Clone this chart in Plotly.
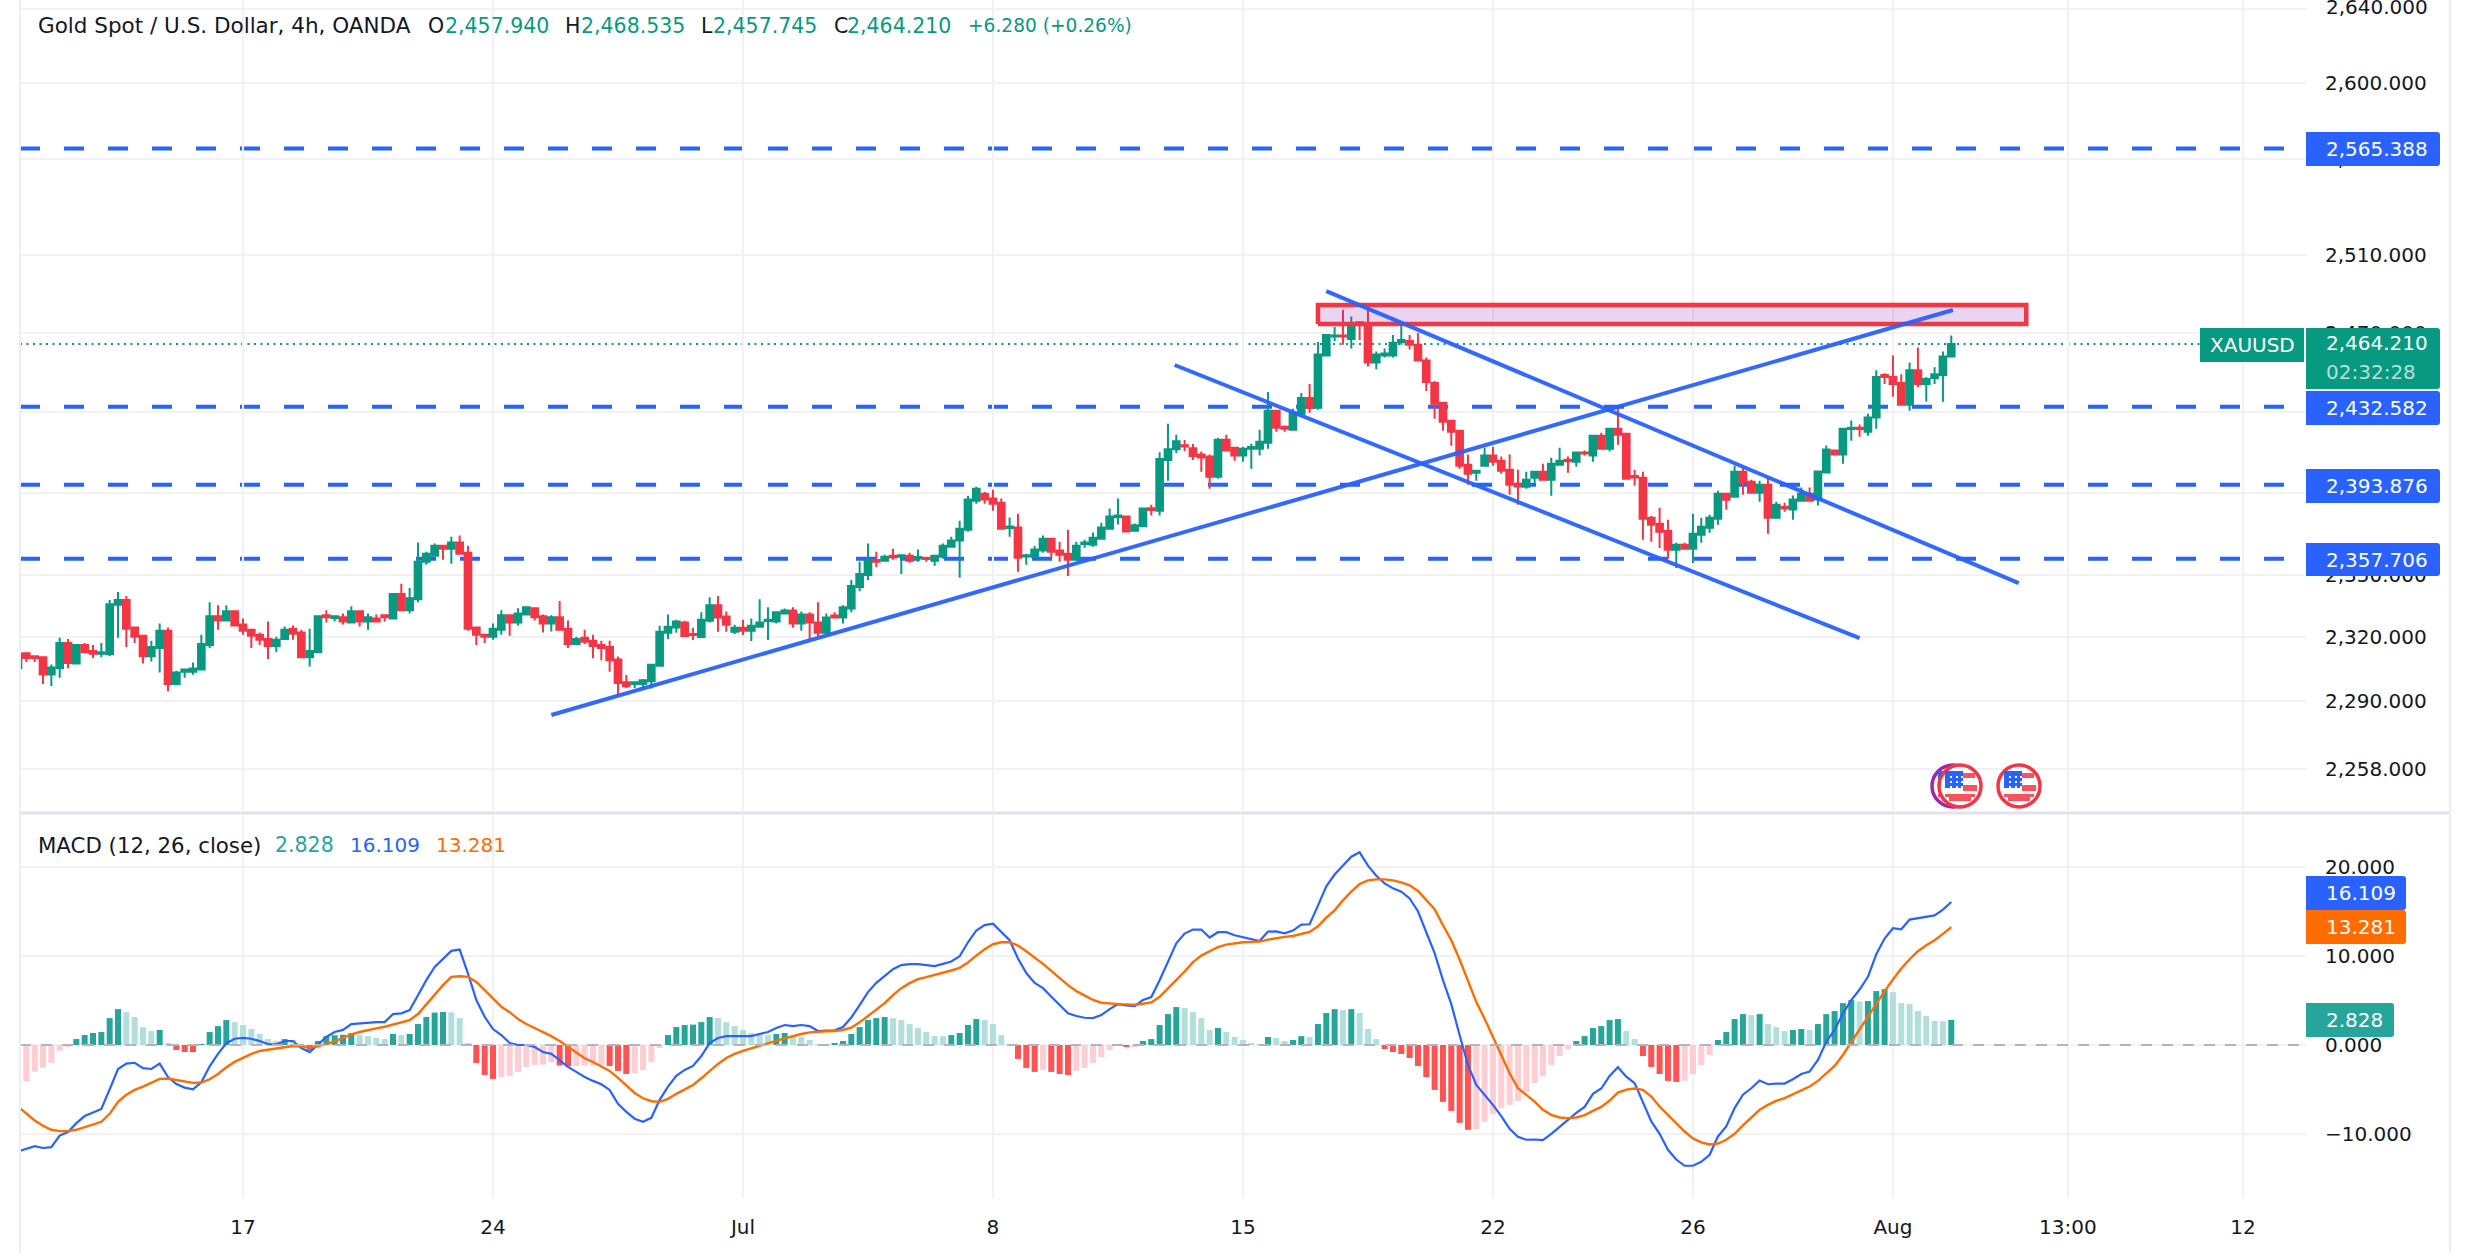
import math
import plotly.graph_objects as go

W, H = 2470, 1253

opens = [
    2305.3, 2312.4, 2311.0, 2310.5, 2302.3, 2305.3, 2317.3, 2307.5, 2316.3, 2313.4,
    2312.1, 2311.9, 2335.5, 2337.8, 2324.6, 2320.7, 2311.0, 2314.9, 2323.1, 2297.8,
    2303.6, 2303.6, 2304.6, 2316.3, 2330.0, 2328.0, 2332.4, 2326.1, 2323.6, 2321.2,
    2319.2, 2315.8, 2319.1, 2324.1, 2322.2, 2310.5, 2312.9, 2330.5, 2329.2, 2329.5,
    2327.0, 2332.4, 2327.5, 2329.0, 2330.5, 2329.0, 2340.7, 2332.9, 2338.2, 2356.3,
    2359.2, 2364.1, 2362.6, 2365.6, 2360.7, 2324.6, 2321.2, 2320.2, 2323.6, 2330.5,
    2327.0, 2330.9, 2333.9, 2330.0, 2326.5, 2329.5, 2324.1, 2316.8, 2319.7, 2318.3,
    2316.3, 2315.3, 2309.4, 2298.6, 2297.8, 2297.8, 2299.1, 2306.4, 2322.1, 2324.7,
    2327.0, 2321.6, 2320.1, 2327.9, 2335.3, 2329.9, 2322.6, 2324.5, 2323.1, 2325.0,
    2327.6, 2327.5, 2331.4, 2332.8, 2326.5, 2330.9, 2327.0, 2322.1, 2330.4, 2329.4,
    2333.8, 2344.1, 2349.9, 2357.1, 2356.8, 2359.2, 2358.7, 2359.2, 2357.9, 2358.2,
    2356.8, 2358.7, 2363.6, 2366.6, 2371.9, 2386.1, 2389.5, 2387.1, 2385.1, 2372.7,
    2372.9, 2358.9, 2358.7, 2361.7, 2367.5, 2361.7, 2360.2, 2357.3, 2364.9, 2364.6,
    2367.5, 2372.4, 2378.0, 2378.3, 2371.4, 2373.6, 2382.4, 2381.2, 2406.1, 2411.5,
    2413.5, 2412.0, 2408.8, 2407.8, 2397.9, 2416.2, 2412.2, 2408.3, 2411.7, 2411.7,
    2414.7, 2430.6, 2422.7, 2421.2, 2429.1, 2437.0, 2432.1, 2458.4, 2468.0, 2468.6,
    2466.8, 2475.3, 2474.8, 2454.9, 2458.4, 2458.4, 2465.3, 2465.8, 2463.8, 2455.9,
    2444.5, 2434.6, 2425.6, 2420.7, 2403.8, 2399.8, 2403.3, 2408.3, 2405.8, 2401.3,
    2394.4, 2392.9, 2397.4, 2400.3, 2396.4, 2403.8, 2406.3, 2405.3, 2409.9, 2408.3,
    2418.2, 2411.7, 2421.7, 2419.2, 2398.2, 2397.4, 2377.7, 2374.8, 2371.4, 2362.1,
    2364.5, 2362.6, 2369.4, 2372.8, 2377.2, 2389.5, 2388.0, 2400.3, 2395.4, 2390.0,
    2393.9, 2377.7, 2383.1, 2381.7, 2386.1, 2389.5, 2386.6, 2399.9, 2410.8, 2408.8,
    2421.5, 2422.2, 2420.2, 2427.2, 2448.5, 2447.5, 2444.5, 2433.6, 2451.0, 2444.0,
    2447.0, 2448.5, 2457.94,
]
highs = [
    2312.2, 2312.9, 2311.4, 2310.5, 2307.0, 2319.7, 2319.2, 2316.8, 2317.3, 2316.3,
    2317.3, 2337.8, 2341.7, 2339.7, 2324.6, 2321.2, 2318.3, 2326.5, 2324.6, 2304.1,
    2305.1, 2308.0, 2321.2, 2336.8, 2335.3, 2335.3, 2332.4, 2329.0, 2323.6, 2322.2,
    2327.5, 2320.2, 2325.1, 2325.6, 2323.6, 2324.1, 2330.5, 2332.9, 2330.0, 2331.4,
    2334.8, 2332.9, 2331.4, 2330.9, 2330.5, 2341.2, 2345.6, 2343.6, 2365.6, 2361.2,
    2365.1, 2364.6, 2368.5, 2369.0, 2364.1, 2325.1, 2321.7, 2326.5, 2332.9, 2330.9,
    2333.9, 2334.8, 2334.4, 2330.9, 2330.5, 2337.3, 2328.0, 2320.2, 2323.6, 2321.2,
    2318.3, 2318.3, 2310.8, 2302.0, 2299.1, 2300.1, 2307.4, 2325.5, 2330.9, 2328.4,
    2327.9, 2324.5, 2331.9, 2339.2, 2339.7, 2332.3, 2326.0, 2328.4, 2328.9, 2338.2,
    2334.3, 2332.3, 2333.8, 2334.3, 2332.3, 2331.9, 2336.7, 2331.4, 2331.9, 2335.3,
    2347.5, 2356.3, 2365.1, 2361.2, 2359.7, 2362.6, 2359.7, 2360.7, 2362.2, 2358.2,
    2359.2, 2365.1, 2368.5, 2376.3, 2388.5, 2392.9, 2390.5, 2391.5, 2387.1, 2377.8,
    2379.7, 2360.2, 2364.1, 2369.0, 2368.0, 2366.0, 2371.9, 2366.0, 2367.0, 2370.5,
    2375.3, 2382.2, 2387.1, 2378.8, 2374.9, 2382.7, 2384.1, 2410.0, 2424.1, 2418.6,
    2416.1, 2414.1, 2410.3, 2408.8, 2417.2, 2418.7, 2412.7, 2412.7, 2414.2, 2421.2,
    2440.0, 2430.6, 2423.2, 2431.6, 2439.5, 2444.0, 2465.3, 2469.3, 2472.8, 2481.7,
    2478.2, 2475.8, 2482.7, 2460.4, 2461.9, 2468.8, 2474.8, 2468.8, 2469.8, 2457.4,
    2445.5, 2435.1, 2426.1, 2421.2, 2408.8, 2401.3, 2412.2, 2412.7, 2407.8, 2408.8,
    2401.3, 2400.3, 2400.3, 2404.3, 2407.3, 2412.2, 2407.8, 2410.3, 2410.8, 2418.7,
    2419.7, 2422.2, 2431.6, 2419.7, 2401.3, 2400.3, 2378.7, 2382.6, 2376.7, 2365.5,
    2365.5, 2379.7, 2377.7, 2379.2, 2390.9, 2389.5, 2403.3, 2402.8, 2396.4, 2395.9,
    2397.4, 2385.6, 2385.1, 2388.6, 2392.5, 2392.5, 2400.4, 2413.3, 2411.3, 2421.7,
    2425.7, 2423.7, 2429.1, 2451.0, 2449.5, 2458.4, 2449.0, 2454.9, 2462.4, 2447.5,
    2452.5, 2460.4, 2468.535,
]
lows = [
    2305.3, 2308.2, 2308.2, 2297.8, 2296.8, 2300.7, 2305.3, 2307.2, 2312.9, 2310.1,
    2310.5, 2311.0, 2319.7, 2315.3, 2317.3, 2307.5, 2308.5, 2303.2, 2294.4, 2297.8,
    2300.7, 2302.2, 2304.6, 2314.9, 2323.6, 2328.0, 2325.1, 2321.2, 2314.9, 2316.3,
    2309.5, 2312.9, 2318.8, 2318.8, 2310.0, 2306.1, 2312.9, 2327.0, 2327.5, 2326.1,
    2326.5, 2325.1, 2323.6, 2327.5, 2327.5, 2329.0, 2332.4, 2331.4, 2336.8, 2354.8,
    2359.2, 2357.3, 2355.3, 2360.2, 2323.1, 2316.3, 2317.3, 2318.8, 2321.2, 2320.7,
    2325.6, 2330.5, 2328.0, 2322.2, 2322.7, 2323.6, 2314.9, 2316.3, 2316.8, 2310.0,
    2309.0, 2303.6, 2292.3, 2295.9, 2295.9, 2295.7, 2295.7, 2306.4, 2319.1, 2322.1,
    2320.6, 2318.7, 2320.1, 2327.0, 2322.6, 2322.6, 2321.6, 2321.1, 2318.2, 2325.0,
    2318.7, 2326.5, 2331.4, 2324.5, 2323.1, 2318.7, 2320.6, 2321.6, 2329.4, 2326.5,
    2331.9, 2342.1, 2347.5, 2353.8, 2356.3, 2357.3, 2350.4, 2355.8, 2356.3, 2356.3,
    2354.3, 2357.8, 2363.1, 2348.5, 2370.9, 2384.6, 2384.6, 2381.2, 2372.4, 2368.5,
    2351.4, 2354.8, 2358.7, 2360.7, 2358.2, 2356.3, 2349.4, 2357.3, 2363.1, 2363.6,
    2367.5, 2371.9, 2374.4, 2370.5, 2371.4, 2373.6, 2378.8, 2378.8, 2395.9, 2409.6,
    2410.6, 2406.1, 2400.3, 2391.9, 2396.9, 2410.8, 2405.8, 2405.3, 2401.8, 2408.3,
    2411.7, 2420.2, 2420.2, 2421.2, 2428.6, 2429.6, 2431.1, 2458.4, 2465.8, 2463.8,
    2461.9, 2466.3, 2452.9, 2451.4, 2457.4, 2457.4, 2463.8, 2461.4, 2455.9, 2440.5,
    2426.6, 2420.7, 2413.2, 2401.8, 2393.9, 2395.9, 2402.8, 2403.3, 2399.3, 2389.0,
    2384.1, 2391.9, 2394.9, 2395.9, 2388.5, 2403.3, 2399.8, 2402.8, 2408.3, 2405.3,
    2411.2, 2410.3, 2413.7, 2396.9, 2393.4, 2367.0, 2366.0, 2363.0, 2357.7, 2353.3,
    2362.1, 2355.7, 2365.5, 2370.4, 2374.3, 2381.6, 2388.0, 2389.0, 2389.5, 2385.6,
    2369.9, 2377.2, 2380.7, 2376.8, 2386.1, 2386.1, 2383.7, 2399.9, 2408.3, 2404.3,
    2415.7, 2417.7, 2418.2, 2421.7, 2444.0, 2437.6, 2433.6, 2430.6, 2442.5, 2435.1,
    2444.0, 2435.1, 2457.745,
]
closes = [
    2312.2, 2310.1, 2310.1, 2302.3, 2305.6, 2317.3, 2307.7, 2316.3, 2312.9, 2312.1,
    2312.9, 2335.8, 2337.8, 2324.1, 2320.2, 2311.0, 2315.3, 2323.1, 2297.8, 2303.2,
    2304.6, 2305.1, 2316.8, 2330.0, 2328.0, 2332.4, 2325.6, 2323.1, 2320.7, 2318.8,
    2315.8, 2318.8, 2323.6, 2321.7, 2310.5, 2313.4, 2330.0, 2329.5, 2330.0, 2327.5,
    2332.4, 2327.5, 2329.5, 2327.5, 2329.6, 2340.7, 2332.9, 2338.7, 2356.3, 2360.2,
    2364.1, 2362.6, 2365.6, 2360.2, 2324.1, 2321.2, 2320.2, 2324.1, 2330.5, 2327.0,
    2331.4, 2334.4, 2329.5, 2326.5, 2329.5, 2323.6, 2316.8, 2319.2, 2317.8, 2315.8,
    2314.9, 2309.0, 2298.3, 2296.7, 2298.6, 2299.6, 2306.9, 2322.6, 2325.0, 2327.5,
    2320.6, 2321.1, 2328.4, 2335.3, 2329.4, 2326.0, 2324.5, 2323.1, 2325.5, 2327.0,
    2328.3, 2331.9, 2332.8, 2326.5, 2330.9, 2327.0, 2322.1, 2329.4, 2329.4, 2334.3,
    2344.6, 2350.4, 2356.8, 2356.3, 2358.7, 2358.4, 2359.5, 2356.8, 2358.6, 2357.6,
    2359.2, 2364.1, 2366.6, 2372.4, 2386.6, 2392.0, 2386.6, 2384.6, 2372.4, 2373.4,
    2358.2, 2359.5, 2362.2, 2367.5, 2361.2, 2359.7, 2357.3, 2364.1, 2365.6, 2368.0,
    2372.9, 2378.3, 2378.8, 2371.0, 2374.0, 2382.2, 2381.5, 2406.6, 2411.5, 2415.4,
    2412.8, 2408.1, 2407.4, 2397.9, 2416.2, 2410.8, 2408.3, 2411.7, 2412.6, 2415.2,
    2430.6, 2422.2, 2421.7, 2429.6, 2437.0, 2432.1, 2458.9, 2468.8, 2468.6, 2468.0,
    2474.8, 2474.3, 2454.9, 2458.9, 2459.4, 2464.8, 2466.2, 2463.8, 2455.9, 2445.0,
    2434.1, 2425.1, 2420.2, 2403.3, 2399.3, 2400.8, 2408.3, 2405.3, 2400.8, 2393.9,
    2393.1, 2396.4, 2400.3, 2396.4, 2404.3, 2405.8, 2405.5, 2409.8, 2409.3, 2418.2,
    2411.7, 2421.7, 2418.7, 2396.9, 2397.5, 2377.2, 2374.3, 2370.9, 2362.1, 2364.5,
    2362.6, 2369.9, 2373.3, 2377.7, 2389.5, 2386.5, 2400.3, 2394.9, 2390.0, 2393.9,
    2377.7, 2384.1, 2382.3, 2386.6, 2389.5, 2386.1, 2400.4, 2411.3, 2408.8, 2421.7,
    2422.2, 2421.5, 2427.2, 2447.5, 2447.5, 2444.0, 2433.6, 2451.0, 2444.0, 2446.5,
    2449.0, 2457.9, 2464.21,
]

macd_hist = [
    -5.4, -4.1, -3.0, -2.55, -2.0, -0.64, -0.2, 0.67, 1.12, 1.35,
    1.46, 3.03, 4.04, 3.7, 3.15, 2.0, 1.57, 1.69, 0.22, -0.56,
    -0.79, -0.8, 0.1, 1.46, 2.13, 2.81, 2.58, 2.25, 1.8, 1.24,
    0.67, 0.45, 0.67, 0.56, -0.22, -0.56, 0.45, 1.0, 1.1, 1.15,
    1.35, 1.12, 1.0, 0.79, 0.67, 1.24, 1.12, 1.24, 2.36, 3.15,
    3.65, 3.72, 3.68, 3.03, 0.22, -2.02, -3.37, -3.82, -3.6, -3.48,
    -3.03, -2.47, -2.25, -2.2, -1.91, -2.3, -2.4, -2.36, -2.33, -2.28,
    -2.25, -2.36, -2.92, -3.26, -3.15, -2.81, -1.91, -0.34, 1.12, 2.02,
    2.25, 2.3, 2.58, 3.15, 3.03, 2.58, 2.13, 1.69, 1.35, 1.3,
    1.12, 1.24, 1.35, 1.0, 0.9, 0.56, 0.1, 0.11, 0.12, 0.45,
    1.24, 2.02, 2.81, 3.03, 3.15, 3.03, 2.81, 2.36, 1.91, 1.46,
    1.0, 0.98, 1.12, 1.35, 2.25, 2.92, 2.81, 2.36, 1.12, 0.1,
    -1.57, -2.58, -3.03, -2.81, -3.03, -3.26, -3.37, -2.92, -2.58, -2.02,
    -1.35, -0.56, 0.1, -0.22, -0.2, 0.45, 0.67, 2.25, 3.48, 4.27,
    4.16, 3.7, 3.03, 1.69, 1.91, 1.46, 0.9, 0.56, 0.22, 0.11,
    0.9, 0.79, 0.45, 0.56, 1.0, 0.9, 2.36, 3.6, 4.04, 3.93,
    4.04, 3.6, 1.8, 0.67, -0.45, -0.79, -1.01, -1.46, -2.36, -3.6,
    -5.06, -6.4, -7.42, -8.76, -9.55, -9.5, -8.65, -7.75, -7.08, -6.74,
    -6.29, -5.28, -4.27, -3.48, -2.25, -1.24, -0.45, 0.45, 1.0, 1.91,
    2.13, 2.81, 2.92, 1.57, 0.67, -1.24, -2.47, -3.26, -4.04, -4.16,
    -4.04, -3.26, -2.25, -1.12, 0.56, 1.46, 2.92, 3.48, 3.37, 3.48,
    2.36, 2.02, 1.57, 1.69, 1.8, 1.69, 2.36, 3.48, 3.82, 4.72,
    5.06, 4.9, 4.95, 6.07, 6.29, 5.96, 4.72, 4.6, 3.82, 3.26,
    2.7, 2.68, 2.828,
]
macd_line = [
    -12.0, -11.7, -11.4, -11.6, -11.5, -10.2, -9.8, -8.8, -8.0, -7.6,
    -7.2, -5.0, -2.7, -2.1, -2.0, -2.6, -2.7, -2.1, -3.6, -4.4,
    -4.8, -5.0, -4.2, -2.4, -1.0, 0.2, 0.7, 0.8, 0.7, 0.45,
    0.1, 0.07, 0.45, 0.45, -0.34, -0.8, 0.1, 0.9, 1.46, 1.7,
    2.36, 2.43, 2.58, 2.58, 2.58, 3.48, 3.56, 3.93, 5.6, 7.3,
    8.8, 9.74, 10.6, 10.75, 8.05, 5.06, 3.18, 1.8, 1.12, 0.22,
    0.0, 0.0, -0.22, -0.79, -1.0, -1.7, -2.47, -3.03, -3.6, -4.04,
    -4.42, -5.06, -6.63, -7.53, -8.3, -8.65, -8.2, -6.18, -4.68, -3.48,
    -2.81, -2.36, -1.24, 0.22, 0.79, 1.0, 1.0, 0.97, 1.0, 1.24,
    1.46, 1.91, 2.25, 2.13, 2.25, 2.13, 1.57, 1.61, 1.65, 2.02,
    3.1, 4.5, 5.96, 7.0, 7.8, 8.54, 9.0, 9.1, 9.1, 8.95,
    8.88, 9.14, 9.4, 10.0, 11.57, 12.9, 13.5, 13.67, 12.7, 11.8,
    9.74, 8.1, 7.0, 6.4, 5.43, 4.5, 3.56, 3.26, 3.07, 3.03,
    3.37, 4.04, 4.6, 4.46, 4.38, 5.06, 5.4, 7.3, 9.44, 11.46,
    12.55, 13.0, 13.0, 12.1, 12.7, 12.7, 12.36, 12.13, 11.87, 11.7,
    12.77, 12.8, 12.58, 12.88, 13.56, 13.6, 15.7, 17.87, 19.2, 20.2,
    21.2, 21.7, 20.2, 19.06, 18.2, 17.64, 17.27, 16.5, 15.06, 12.7,
    10.34, 7.3, 4.6, 1.12, -2.25, -4.5, -5.6, -6.74, -8.0, -9.44,
    -10.34, -10.67, -10.64, -10.7, -10.0, -9.2, -8.43, -7.64, -6.97, -5.5,
    -4.9, -3.48, -2.5, -3.56, -4.3, -6.4, -8.6, -10.0, -11.8, -12.9,
    -13.6, -13.6, -13.15, -12.36, -10.3, -9.18, -7.1, -5.6, -4.87, -4.0,
    -4.42, -4.34, -4.34, -3.86, -3.26, -3.0, -1.69, 0.37, 1.69, 3.56,
    5.06, 6.25, 7.68, 10.22, 11.99, 13.15, 13.03, 14.12, 14.3, 14.46,
    14.6, 15.24, 16.109,
]
signal_line = [
    -6.93, -7.68, -8.5, -9.1, -9.55, -9.7, -9.7, -9.55, -9.25, -9.0,
    -8.65, -7.75, -6.4, -5.6, -5.06, -4.68, -4.27, -3.82, -3.78, -3.93,
    -4.12, -4.27, -4.23, -3.86, -3.26, -2.5, -1.9, -1.42, -1.0, -0.67,
    -0.52, -0.37, -0.22, -0.11, -0.15, -0.26, -0.15, 0.11, 0.41, 0.79,
    1.2, 1.46, 1.69, 1.87, 2.06, 2.32, 2.58, 2.81, 3.48, 4.6,
    5.62, 6.74, 7.68, 7.75, 7.68, 7.1, 6.18, 5.28, 4.3, 3.7,
    2.92, 2.36, 1.91, 1.46, 1.0, 0.45, -0.22, -0.86, -1.5, -1.91,
    -2.43, -2.92, -3.7, -4.6, -5.4, -6.0, -6.33, -6.4, -6.07, -5.5,
    -4.98, -4.5, -3.75, -2.92, -2.13, -1.46, -1.0, -0.67, -0.41, -0.11,
    0.19, 0.49, 0.75, 1.05, 1.24, 1.42, 1.5, 1.54, 1.57, 1.69,
    1.95, 2.55, 3.26, 4.04, 4.72, 5.62, 6.4, 6.97, 7.42, 7.64,
    7.87, 8.13, 8.39, 8.69, 9.29, 10.07, 10.79, 11.35, 11.57, 11.57,
    11.2, 10.56, 9.89, 9.14, 8.35, 7.53, 6.74, 6.07, 5.62, 5.09,
    4.76, 4.64, 4.6, 4.57, 4.53, 4.64, 4.79, 5.43, 6.37, 7.38,
    8.28, 9.33, 10.07, 10.56, 11.01, 11.31, 11.46, 11.57, 11.61, 11.65,
    11.87, 12.06, 12.17, 12.28, 12.51, 12.73, 13.37, 14.34, 15.17, 16.29,
    17.27, 18.13, 18.54, 18.65, 18.65, 18.54, 18.31, 17.98, 17.34, 16.29,
    15.28, 13.48, 11.8, 9.63, 7.3, 4.83, 2.96, 0.86, -1.12, -3.18,
    -4.87, -5.62, -6.37, -7.3, -7.87, -8.16, -8.24, -8.16, -7.9, -7.42,
    -6.97, -6.25, -5.36, -5.02, -4.9, -5.06, -5.8, -6.93, -7.87, -8.91,
    -9.74, -10.52, -10.97, -11.2, -11.09, -10.67, -10.0, -9.06, -8.16, -7.3,
    -6.74, -6.29, -5.99, -5.58, -5.17, -4.68, -4.04, -3.18, -2.36, -1.12,
    0.34, 1.69, 3.18, 4.72, 6.07, 7.38, 8.61, 9.66, 10.56, 11.24,
    11.8, 12.51, 13.281,
]

bars = list(range(len(closes)))

# horizontal levels and the drawings on the chart
level_prices = [2565.388, 2432.582, 2393.876, 2357.706]
last_price = 2464.21
rise_x, rise_y = [64, 232.2], [2283.2, 2481.5]
fall_upper_x, fall_upper_y = [157, 240.1], [2491.2, 2346.0]
fall_lower_x, fall_lower_y = [138.8, 221], [2453.6, 2319.6]
zone_x = [156, 241, 241, 156, 156]
zone_y = [2474.4, 2474.4, 2484.1, 2484.1, 2474.4]

price_ticks = [2258, 2290, 2320, 2350, 2390, 2430, 2470, 2510, 2560, 2600, 2640]
macd_ticks = [-10, 0, 10, 20]
macd_tick_text = ["\u221210.000", "0.000", "10.000", "20.000"]
time_ticks = [27, 57, 87, 117, 147, 177, 201, 225, 246, 267]
time_labels = ["17", "24", "Jul", "8", "15", "22", "26", "Aug", "13:00", "12"]

GREEN = "#089981"
RED = "#f23645"
BLUE = "#2962ff"
ORANGE = "#ff6d00"
TEXT = "#131722"
GRID = "#f2f2f3"
FONT = "DejaVu Sans"

# pixel edges of the two panes
LEFT, RIGHT = 20, 2306
PRICE_BOTTOM, MACD_TOP, MACD_BOTTOM = 811, 815, 1198


def px(x):
    return x / W


def py(y):
    return 1 - y / H


hist_colors = []
for i, v in enumerate(macd_hist):
    prev = macd_hist[i - 1] if i else v
    if v >= 0:
        hist_colors.append("#26a69a" if v > prev else "#b2dfdb")
    else:
        hist_colors.append("#ff5252" if v < prev else "#ffcdd2")

fig = go.Figure()

fig.add_trace(go.Candlestick(
    x=bars, open=opens, high=highs, low=lows, close=closes,
    increasing=dict(line=dict(color=GREEN, width=2), fillcolor=GREEN),
    decreasing=dict(line=dict(color=RED, width=2), fillcolor=RED),
    whiskerwidth=0, xaxis="x", yaxis="y",
))
fig.add_trace(go.Scatter(
    x=zone_x, y=zone_y, mode="lines", fill="toself",
    fillcolor="rgba(156,39,176,0.2)", line=dict(color=RED, width=4.5),
    xaxis="x", yaxis="y",
))
for lx, ly in [(rise_x, rise_y), (fall_upper_x, fall_upper_y), (fall_lower_x, fall_lower_y)]:
    fig.add_trace(go.Scatter(x=lx, y=ly, mode="lines", line=dict(color=BLUE, width=4),
                             opacity=0.95, xaxis="x", yaxis="y"))

fig.add_trace(go.Bar(x=bars, y=macd_hist, marker=dict(color=hist_colors, line_width=0),
                     width=0.72, xaxis="x2", yaxis="y2"))
fig.add_trace(go.Scatter(x=bars, y=macd_line, mode="lines", line=dict(color=BLUE, width=2.2),
                         xaxis="x2", yaxis="y2"))
fig.add_trace(go.Scatter(x=bars, y=signal_line, mode="lines", line=dict(color=ORANGE, width=2.4),
                         xaxis="x2", yaxis="y2"))

shapes = []
for p in level_prices:
    shapes.append(dict(type="line", xref="x domain", yref="y", x0=0, x1=1, y0=p, y1=p, layer="below",
                       line=dict(color=BLUE, width=4, dash="20px,24px")))
shapes.append(dict(type="line", xref="x domain", yref="y", x0=0, x1=(2200 - LEFT) / (RIGHT - LEFT),
                   y0=last_price, y1=last_price, layer="below",
                   line=dict(color=GREEN, width=2, dash="2px,4.5px")))
shapes.append(dict(type="line", xref="x2 domain", yref="y2", x0=0, x1=1, y0=0, y1=0,
                   line=dict(color="#b2b5be", width=2, dash="11px,10px")))
# pane separator and the outer frame
shapes.append(dict(type="line", xref="paper", yref="paper", x0=px(LEFT), x1=px(2450), y0=py(813), y1=py(813),
                   line=dict(color="#e0e3eb", width=3)))
for edge in (LEFT, 2450):
    shapes.append(dict(type="line", xref="paper", yref="paper", x0=px(edge), x1=px(edge), y0=0, y1=1,
                       line=dict(color="#eceef2", width=2)))


def label_box(x0, x1, y0, y1, color, r=3):
    path = (f"M{px(x0)},{py(y0)} H{px(x1 - r)} Q{px(x1)},{py(y0)} {px(x1)},{py(y0 + r)} "
            f"V{py(y1 - r)} Q{px(x1)},{py(y1)} {px(x1 - r)},{py(y1)} H{px(x0)} Z")
    return dict(type="path", xref="paper", yref="paper", path=path, fillcolor=color, line_width=0)


def label_text(x, y, text, color="white", anchor="left", size=20):
    return dict(xref="paper", yref="paper", x=px(x), y=py(y), text=text, showarrow=False, xanchor=anchor,
                yanchor="middle", font=dict(family=FONT, size=size, color=color))


annotations = []
level_boxes = [(132, 166), (391, 425), (469, 503), (543, 576)]
for p, (top, bottom) in zip(level_prices, level_boxes):
    shapes.append(label_box(2306, 2440, top, bottom, BLUE))
    annotations.append(label_text(2324, (top + bottom) / 2, f"{p:,.3f}"))

shapes.append(label_box(2306, 2440, 328, 389, GREEN))
annotations.append(label_text(2324, 343, f"{last_price:,.3f}"))
annotations.append(label_text(2324, 372, "02:32:28", color="#b5e0d9"))
shapes.append(dict(type="rect", xref="paper", yref="paper", x0=px(2200), x1=px(2304), y0=py(328), y1=py(362),
                   fillcolor=GREEN, line_width=0))
annotations.append(label_text(2252, 345, "XAUUSD", anchor="center"))

macd_boxes = [(macd_line[-1], 2406, 876, 910, BLUE), (signal_line[-1], 2406, 910, 944, ORANGE),
              (macd_hist[-1], 2394, 1003, 1037, "#26a69a")]
for v, right, top, bottom, color in macd_boxes:
    shapes.append(label_box(2306, right, top, bottom, color))
    annotations.append(label_text(2324, (top + bottom) / 2, f"{v:.3f}"))

# the top price label would be dropped by the axis, it sits half over the page edge
annotations.append(label_text(2324, 7, f"{price_ticks[-1]:,.3f}", color=TEXT))

# legend rows are laid out piece by piece so each value starts where it does in the chart
title_pieces = [
    (36, "Gold Spot / U.S. Dollar, 4h, OANDA", TEXT, 21.5),
    (426, "O", TEXT, 20.5), (443, f"{opens[-1]:,.3f}", GREEN, 20.5),
    (563, "H", TEXT, 20.5), (579, f"{highs[-1]:,.3f}", GREEN, 20.5),
    (699, "L", TEXT, 20.5), (711, f"{lows[-1]:,.3f}", GREEN, 20.5),
    (832, "C", TEXT, 20.5), (845, f"{closes[-1]:,.3f}", GREEN, 20.5),
    (966, "+6.280 (+0.26%)", GREEN, 18.6),
]
for x, text, color, size in title_pieces:
    annotations.append(label_text(x, 26, text, color=color, size=size))

macd_pieces = [
    (36, "MACD (12, 26, close)", TEXT, 21.3),
    (273, f"{macd_hist[-1]:.3f}", "#26a69a", 20.5),
    (348, f"{macd_line[-1]:.3f}", BLUE, 20),
    (434, f"{signal_line[-1]:.3f}", ORANGE, 20),
]
for x, text, color, size in macd_pieces:
    annotations.append(label_text(x, 845, text, color=color, size=size))


# the two economic event markers under the last candles
def event_icon(cx, cy, ring):
    items = [dict(type="circle", xref="paper", yref="paper", x0=px(cx - 21), x1=px(cx + 21),
                  y0=py(cy + 21), y1=py(cy - 21), fillcolor="white", line=dict(color=ring, width=3.5))]
    for x0, x1, y0, y1, color in [(-15, 3, -15, 2, BLUE), (3, 15, -13, -8, "#f7525f"), (3, 17, -1, 5, "#f7525f"),
                                  (-11, 11, 10, 15, "#f7525f"), (-15, 15, 8, 11, "#f7525f")]:
        items.append(dict(type="rect", xref="paper", yref="paper", x0=px(cx + x0), x1=px(cx + x1),
                          y0=py(cy + y0), y1=py(cy + y1), fillcolor=color, line_width=0))
    for sx in (-10, -4, 1):
        for sy in (-10, -5, 0):
            items.append(dict(type="rect", xref="paper", yref="paper", x0=px(cx + sx), x1=px(cx + sx + 2),
                              y0=py(cy + sy), y1=py(cy + sy + 2), fillcolor="white", line_width=0))
    return items


shapes += event_icon(1953, 786, "#9c27b0") + event_icon(1960, 786, RED) + event_icon(2019, 786, RED)

# axis ranges come from the pane edges
px_per_log = 4862
y_at_2640 = 9
price_top = 2640 * math.exp(y_at_2640 / px_per_log)
price_bottom = 2640 * math.exp(-(PRICE_BOTTOM - y_at_2640) / px_per_log)
x_range = [27 + (LEFT - 243) / 8.333, 27 + (RIGHT - 243) / 8.333]

axis_font = dict(family=FONT, size=20, color=TEXT)
x_common = dict(range=x_range, tickmode="array", tickvals=time_ticks, showgrid=True, gridcolor=GRID, gridwidth=2,
                zeroline=False, showline=False, ticks="", domain=[px(LEFT), px(RIGHT)])

fig.update_layout(
    width=W, height=H, autosize=False, margin=dict(l=0, r=0, t=0, b=0),
    paper_bgcolor="white", plot_bgcolor="white", showlegend=False, barmode="overlay",
    boxgap=0.2, boxgroupgap=0, hovermode=False,
    xaxis=dict(anchor="y", showticklabels=False, rangeslider=dict(visible=False), **x_common),
    xaxis2=dict(anchor="y2", ticktext=time_labels, tickfont=axis_font, ticklabelstandoff=15, **x_common),
    yaxis=dict(domain=[py(PRICE_BOTTOM), 1], anchor="x", side="right", type="log",
               range=[math.log10(price_bottom), math.log10(price_top)],
               tickmode="array", tickvals=price_ticks, ticktext=[f"{t:,.3f}" for t in price_ticks],
               tickfont=axis_font, ticks="", ticklabelstandoff=18,
               showgrid=True, gridcolor=GRID, gridwidth=2, zeroline=False, showline=False),
    yaxis2=dict(domain=[py(MACD_BOTTOM), py(MACD_TOP)], anchor="x2", side="right",
                range=[(1045 - MACD_BOTTOM) / 8.88, (1045 - MACD_TOP) / 8.88],
                tickmode="array", tickvals=macd_ticks, ticktext=macd_tick_text,
                tickfont=axis_font, ticks="", ticklabelstandoff=18, showgrid=True, gridcolor=GRID, gridwidth=2,
                zeroline=False, showline=False),
    shapes=shapes, annotations=annotations,
)

fig.write_html("out.html", config={"displayModeBar": False},
               post_script="document.body.style.margin='0';document.body.style.overflow='hidden';")
